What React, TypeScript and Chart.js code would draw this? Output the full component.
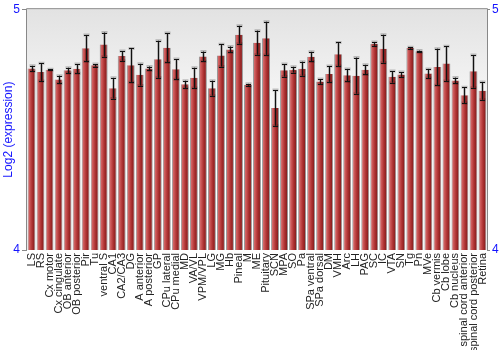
import React, { useEffect, useRef } from "react";
import { Chart, registerables } from "chart.js";
Chart.register(...registerables);

const regions = [
  "LS", "RS", "Cx motor", "Cx cingulate", "OB anterior", "OB posterior", "Pir", "Tu",
  "ventral S", "CA1", "CA2/CA3", "DG", "A anterior", "A posterior", "GP", "CPu lateral",
  "CPu medial", "MD", "VA/VL", "VPM/VPL", "LG", "MG", "Hb", "Pineal", "M", "ME",
  "Pituitary", "SCN", "MPA", "SO", "Pa", "SPa ventral", "SPa dorsal", "DM", "VMH", "Arc",
  "LH", "PAG", "SC", "IC", "VTA", "SN", "Tg", "Pn", "MVe", "Cb vermis", "Cb lobe",
  "Cb nucleus", "spinal cord anterior", "spinal cord posterior", "Retina",
];

const values = [
  4.754, 4.739, 4.749, 4.708, 4.746, 4.753, 4.838, 4.767,
  4.853, 4.672, 4.806, 4.767, 4.728, 4.754, 4.792, 4.840,
  4.751, 4.688, 4.715, 4.804, 4.672, 4.808, 4.833, 4.894, 4.686, 4.861,
  4.879, 4.590, 4.746, 4.749, 4.753, 4.803, 4.700, 4.731, 4.813, 4.726,
  4.724, 4.749, 4.856, 4.836, 4.719, 4.729, 4.839, 4.825, 4.733, 4.760, 4.774,
  4.704, 4.643, 4.742, 4.661,
];

const errors = [
  0.011, 0.037, 0.002, 0.016, 0.011, 0.019, 0.055, 0.005,
  0.050, 0.043, 0.020, 0.070, 0.045, 0.008, 0.077, 0.061,
  0.042, 0.015, 0.042, 0.020, 0.031, 0.046, 0.012, 0.037, 0.004, 0.050,
  0.069, 0.074, 0.026, 0.012, 0.029, 0.020, 0.010, 0.033, 0.049, 0.026,
  0.075, 0.020, 0.008, 0.058, 0.024, 0.010, 0.003, 0.003, 0.019, 0.076, 0.072,
  0.012, 0.033, 0.068, 0.037,
];

const yMin = 4;
const yMax = 5;

const FONT = "'Liberation Sans', Arial, sans-serif";
const BLUE = "#1414ff";
const BAR_PCT = 0.88;

const bgPlugin = {
  id: "bgPlugin",
  beforeDatasetsDraw(chart: any) {
    const { ctx, chartArea } = chart;
    const { left, top, right, bottom } = chartArea;
    const g = ctx.createLinearGradient(0, top, 0, bottom);
    g.addColorStop(0, "#e2e2e2");
    g.addColorStop(0.55, "#ffffff");
    g.addColorStop(1, "#ffffff");
    ctx.save();
    ctx.fillStyle = g;
    ctx.fillRect(left, top, right - left, bottom - top);
    ctx.restore();
  },
  afterDatasetsDraw(chart: any) {
    const { ctx, chartArea } = chart;
    const xs = chart.scales.x;
    const ys = chart.scales.y;
    ctx.save();
    values.forEach((v, i) => {
      const e = errors[i];
      const x = Math.round(xs.getPixelForValue(i)) + 0.5;
      const y1 = ys.getPixelForValue(v + e);
      const y2 = ys.getPixelForValue(v - e);
      const cap = 2.5;
      ctx.strokeStyle = "rgba(0,0,0,0.22)";
      ctx.lineWidth = 3;
      ctx.beginPath();
      ctx.moveTo(x, y1);
      ctx.lineTo(x, y2);
      ctx.moveTo(x - cap - 0.5, y1);
      ctx.lineTo(x + cap + 0.5, y1);
      ctx.moveTo(x - cap - 0.5, y2);
      ctx.lineTo(x + cap + 0.5, y2);
      ctx.stroke();
      ctx.strokeStyle = "#111";
      ctx.lineWidth = 1;
      ctx.beginPath();
      ctx.moveTo(x, y1);
      ctx.lineTo(x, y2);
      ctx.moveTo(x - cap, Math.round(y1) + 0.5);
      ctx.lineTo(x + cap, Math.round(y1) + 0.5);
      ctx.moveTo(x - cap, Math.round(y2) + 0.5);
      ctx.lineTo(x + cap, Math.round(y2) + 0.5);
      ctx.stroke();
    });
    // frame
    const { left, top, right, bottom } = chartArea;
    ctx.strokeStyle = "#888";
    ctx.lineWidth = 1;
    ctx.beginPath();
    ctx.moveTo(left - 0.5, bottom);
    ctx.lineTo(left - 0.5, top - 0.5);
    ctx.lineTo(right + 0.5, top - 0.5);
    ctx.lineTo(right + 0.5, bottom);
    ctx.stroke();
    ctx.restore();
  },
};

function barGradient(context: any) {
  const chart = context.chart;
  const xs = chart.scales.x;
  if (!xs || !chart.chartArea) return "#b03030";
  const cx = xs.getPixelForValue(context.dataIndex);
  const w = (xs.width / regions.length) * BAR_PCT;
  const g = chart.ctx.createLinearGradient(cx - w / 2, 0, cx + w / 2, 0);
  g.addColorStop(0, "#b84444");
  g.addColorStop(0.2, "#d26262");
  g.addColorStop(0.55, "#b03434");
  g.addColorStop(1, "#761414");
  return g;
}

export default function App() {
  const ref = useRef<HTMLCanvasElement | null>(null);
  useEffect(() => {
    if (!ref.current) return;
    const yAxisCommon = {
      type: "linear" as const,
      min: yMin,
      max: yMax,
      ticks: {
        stepSize: 1,
        color: BLUE,
        font: { family: FONT, size: 12 },
        padding: 2,
      },
      border: { display: false },
    };
    const chart = new Chart(ref.current, {
      type: "bar",
      data: {
        labels: regions,
        datasets: [
          {
            data: values,
            backgroundColor: barGradient,
            borderColor: "rgba(110,110,110,0.7)",
            borderWidth: { left: 1, right: 1, top: 0, bottom: 0 } as any,
            barPercentage: BAR_PCT,
            categoryPercentage: 1,
          },
        ],
      },
      options: {
        responsive: false,
        animation: false,
        layout: { padding: { top: 9, left: 0, right: 0, bottom: 0 } },
        plugins: { legend: { display: false }, tooltip: { enabled: false } },
        scales: {
          x: {
            type: "category",
            grid: { display: false, drawTicks: false },
            border: { display: false },
            ticks: {
              autoSkip: false,
              maxRotation: 90,
              minRotation: 90,
              padding: 3,
              color: "#222",
              font: { family: FONT, size: 11 },
            },
            afterFit: (s: any) => {
              s.height = 100;
            },
          },
          y: {
            ...yAxisCommon,
            position: "left",
            grid: { drawOnChartArea: false, tickLength: 5, color: "#888" },
            title: {
              display: true,
              text: "Log2 (expression)",
              color: BLUE,
              font: { family: FONT, size: 12 },
              padding: 1,
            },
            afterFit: (s: any) => {
              s.width = 27;
            },
          },
          y2: {
            ...yAxisCommon,
            position: "right",
            grid: { drawOnChartArea: false, tickLength: 3, color: "#888" },
            afterFit: (s: any) => {
              s.width = 13;
            },
          },
        },
      },
      plugins: [bgPlugin],
    });
    return () => chart.destroy();
  }, []);
  return (
    <div style={{ position: "absolute", left: 0, top: 0, width: 500, height: 350 }}>
      <canvas ref={ref} width={500} height={350} />
    </div>
  );
}
